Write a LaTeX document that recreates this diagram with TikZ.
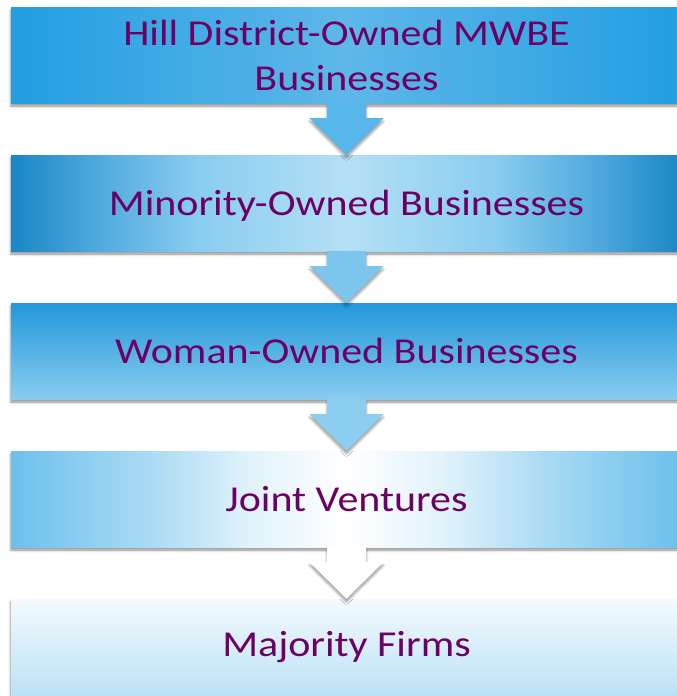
\documentclass[tikz,border=0pt]{standalone}
\usepackage{fontspec}
\setmainfont{Carlito}[FakeStretch=1.15]
\usetikzlibrary{calc,shadows.blur}
\definecolor{plum}{HTML}{6C0064}
\definecolor{skyA}{HTML}{229EE1}
\definecolor{skyAm}{HTML}{5EB7E9}
\definecolor{skyC}{HTML}{2398DA}
\definecolor{skyCb}{HTML}{88CCF0}
\definecolor{skyE}{HTML}{F4FAFE}
\definecolor{skyEb}{HTML}{BCE2F6}
\definecolor{arrA}{HTML}{58B7EA}
\definecolor{arrB}{HTML}{7CC6EE}
\definecolor{arrC}{HTML}{8CCEF0}
% light centre, darker ends (path spans 25bp to 75bp)
\pgfdeclarehorizontalshading{glowB}{100bp}{color(0bp)=(rgb,255:red,26;green,134;blue,196); color(25bp)=(rgb,255:red,26;green,134;blue,196); color(31bp)=(rgb,255:red,76;green,167;blue,221); color(39bp)=(rgb,255:red,138;green,205;blue,240); color(50bp)=(rgb,255:red,180;green,224;blue,245); color(61bp)=(rgb,255:red,138;green,205;blue,240); color(69bp)=(rgb,255:red,76;green,167;blue,221); color(75bp)=(rgb,255:red,26;green,134;blue,196); color(100bp)=(rgb,255:red,26;green,134;blue,196)}
\pgfdeclarehorizontalshading{glowD}{100bp}{color(0bp)=(rgb,255:red,108;green,192;blue,236); color(25bp)=(rgb,255:red,108;green,192;blue,236); color(35bp)=(rgb,255:red,168;green,218;blue,244); color(43bp)=(rgb,255:red,226;green,243;blue,251); color(50bp)=(white); color(57bp)=(rgb,255:red,226;green,243;blue,251); color(65bp)=(rgb,255:red,168;green,218;blue,244); color(75bp)=(rgb,255:red,108;green,192;blue,236); color(100bp)=(rgb,255:red,108;green,192;blue,236)}
\tikzset{
  tier/.style={minimum width=671pt, minimum height=96pt, inner sep=0pt, text=plum,
    align=center, font=\fontsize{36.5}{45}\selectfont,
    blur shadow={shadow xshift=0pt, shadow yshift=-3pt, shadow blur radius=2.5pt, shadow opacity=45}},
  flow/.style={blur shadow={shadow xshift=0pt, shadow yshift=-3pt, shadow blur radius=2.5pt, shadow opacity=40}}
}
\begin{document}
\begin{tikzpicture}[x=1pt, y=-1pt]
\useasboundingbox (0,0) rectangle (677,696);
\clip (0,0) rectangle (677,696);
\node[tier, left color=skyA, right color=skyA, middle color=skyAm] (tier0) at (346.5,55){Hill District-Owned MWBE\\Businesses};
\node[tier, shading=glowB, text depth=0pt] (tier1) at (346.5,203){Minority-Owned Businesses};
\node[tier, top color=skyC, bottom color=skyCb] (tier2) at (346.5,351){Woman-Owned Businesses};
\node[tier, shading=glowD] (tier3) at (346.5,499){Joint Ventures};
\node[tier, top color=skyE, bottom color=skyEb] (tier4) at (346.5,647){Majority Firms};
% block arrows between the tiers
\fill[flow, arrA] ($(tier0.south)+(-19.5,0)$) -- ($(tier0.south)+(19.5,0)$) -- ++(0,15) -- ++(17.5,0) -- (tier1.north) -- ($(tier0.south)+(-37,15)$) -- ++(17.5,0) -- cycle;
\fill[flow, arrB] ($(tier1.south)+(-19.5,0)$) -- ($(tier1.south)+(19.5,0)$) -- ++(0,15) -- ++(17.5,0) -- (tier2.north) -- ($(tier1.south)+(-37,15)$) -- ++(17.5,0) -- cycle;
\fill[flow, arrC] ($(tier2.south)+(-19.5,0)$) -- ($(tier2.south)+(19.5,0)$) -- ++(0,15) -- ++(17.5,0) -- (tier3.north) -- ($(tier2.south)+(-37,15)$) -- ++(17.5,0) -- cycle;
\fill[flow, white] ($(tier3.south)+(-19.5,0)$) -- ($(tier3.south)+(19.5,0)$) -- ++(0,15) -- ++(17.5,0) -- (tier4.north) -- ($(tier3.south)+(-37,15)$) -- ++(17.5,0) -- cycle;
\end{tikzpicture}
\end{document}
